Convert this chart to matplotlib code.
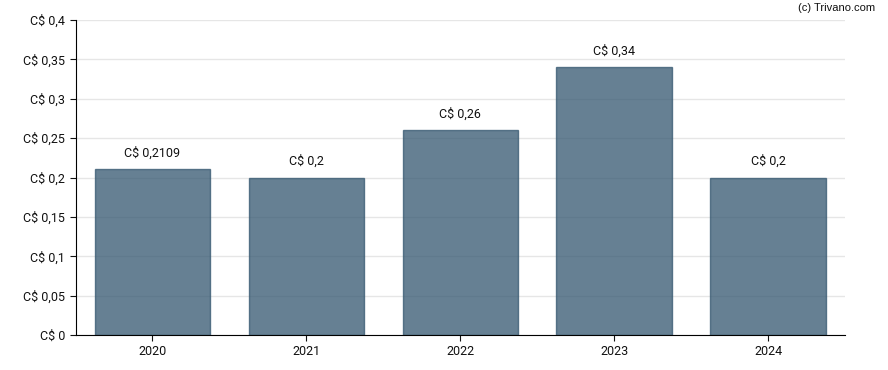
import matplotlib
matplotlib.use("Agg")
from matplotlib import pyplot as plt
from matplotlib.ticker import MultipleLocator, FuncFormatter

# Dividend per year
years = ["2020", "2021", "2022", "2023", "2024"]
values = [0.2109, 0.2, 0.26, 0.34, 0.2]
labels = ["C$ 0,2109", "C$ 0,2", "C$ 0,26", "C$ 0,34", "C$ 0,2"]

plt.rcParams['font.family'] = ['Roboto', 'DejaVu Sans']

fig = plt.figure(figsize=(8.88, 3.7), dpi=100)
ax = fig.add_axes([75.5 / 888, 35 / 370, 769.5 / 888, 315 / 370])

x = range(len(years))
ax.bar(x, values, width=0.75, color='#33566f', alpha=0.75,
       edgecolor='#33566f', linewidth=1, zorder=2)

for i, (v, lab) in enumerate(zip(values, labels)):
    ax.text(i, v + 0.012, lab, ha='center', va='bottom', fontsize=9, color='#111111')

def fmt(val, pos):
    s = ('%.2f' % val).rstrip('0').rstrip('.')
    return 'C$ ' + s.replace('.', ',')

ax.set_xlim(-0.5, 4.5)
ax.set_ylim(0, 0.4)
ax.yaxis.set_major_locator(MultipleLocator(0.05))
ax.yaxis.set_major_formatter(FuncFormatter(fmt))
ax.set_xticks(list(x))
ax.set_xticklabels(years)
ax.tick_params(axis='both', labelsize=9, length=4, color='#111111', labelcolor='#111111')

ax.grid(axis='y', color='#e6e6e6', linewidth=1, zorder=0)
ax.set_axisbelow(True)
ax.spines['top'].set_visible(False)
ax.spines['right'].set_visible(False)

fig.text(875 / 888, 1 - 8 / 370, "(c) Trivano.com", ha='right', va='center',
         fontsize=8, color='#111111', family=['Liberation Sans', 'DejaVu Sans'])

plt.savefig("out.png")
